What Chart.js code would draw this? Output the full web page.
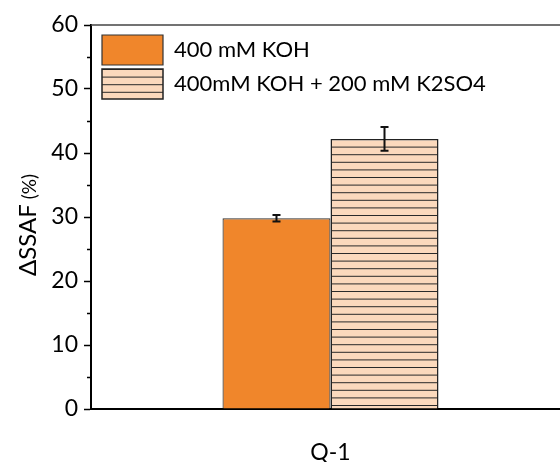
<!DOCTYPE html>
<html>
<head>
<meta charset="utf-8">
<script src="https://cdn.jsdelivr.net/npm/chart.js@4"></script>
<style>
  html, body { margin: 0; padding: 0; background: #fff; overflow: hidden; }
  #wrap { position: relative; width: 570px; height: 462px; }
</style>
</head>
<body>
<div id="wrap"><canvas id="c"></canvas></div>
<script>
// Data
const categories = ['Q-1'];
const seriesNames = ['400 mM KOH', '400mM KOH + 200 mM K2SO4'];
const kohValues = [29.8];
const kohErrors = [0.5];
const mixValues = [42.2];
const mixErrors = [1.85];
const minorTickValues = [5, 15, 25, 35, 45, 55];

// Horizontal-stripe fill used for the K2SO4 series
function makeHatch(spacing) {
  const tile = document.createElement('canvas');
  tile.width = 8;
  tile.height = Math.round(spacing * 5);
  const g = tile.getContext('2d');
  g.fillStyle = '#FBD9BD';
  g.fillRect(0, 0, tile.width, tile.height);
  g.fillStyle = '#2a2a2a';
  for (let k = 0; k < 5; k++) g.fillRect(0, k * spacing, tile.width, 1);
  return g.createPattern(tile, 'repeat');
}
const barHatch = makeHatch(7.6);
const legendHatch = makeHatch(7.6);

const FONT = 'Lato';

const decor = {
  id: 'decor',
  afterLayout(chart) {
    // place the legend inside the plot, just off the top-left corner
    const lg = chart.legend, a = chart.chartArea;
    const w = a.right - a.left, h = a.bottom - a.top;
    lg.left = a.left + 7; lg.right = lg.left + w;
    lg.top = a.top + 6; lg.bottom = lg.top + h;
  },
  beforeDraw(chart) {
    const bar = chart.getDatasetMeta(1).data[0];
    barHatch.setTransform(new DOMMatrix([1, 0, 0, 1, 0, Math.round(bar.y)]));
    const lg = chart.legend;
    const p = lg.options.labels.padding;
    const row2Top = lg.top + p + 30 + p;
    legendHatch.setTransform(new DOMMatrix([1, 0, 0, 1, 0, row2Top]));
  },
  afterDatasetsDraw(chart) {
    const ctx = chart.ctx, ys = chart.scales.y;
    chart.data.datasets.forEach((ds, i) => {
      chart.getDatasetMeta(i).data.forEach((bar, j) => {
        const v = ds.data[j], e = ds.errors[j];
        const yTop = ys.getPixelForValue(v + e), yBot = ys.getPixelForValue(v - e);
        ctx.save();
        ctx.strokeStyle = '#111';
        ctx.lineWidth = 2;
        ctx.beginPath();
        ctx.moveTo(bar.x, yTop); ctx.lineTo(bar.x, yBot);
        ctx.moveTo(bar.x - 4, yTop); ctx.lineTo(bar.x + 4, yTop);
        ctx.moveTo(bar.x - 4, yBot); ctx.lineTo(bar.x + 4, yBot);
        ctx.stroke();
        ctx.restore();
      });
    });
  },
  afterDraw(chart) {
    const ctx = chart.ctx, a = chart.chartArea, ys = chart.scales.y;
    ctx.save();
    // top frame line
    ctx.strokeStyle = '#444';
    ctx.lineWidth = 1.5;
    ctx.beginPath();
    ctx.moveTo(a.left, a.top);
    ctx.lineTo(a.right, a.top);
    ctx.stroke();
    // minor ticks
    ctx.strokeStyle = '#000';
    ctx.lineWidth = 1.5;
    ctx.beginPath();
    minorTickValues.forEach(v => {
      const y = Math.round(ys.getPixelForValue(v)) + 0.5;
      ctx.moveTo(a.left - 4, y);
      ctx.lineTo(a.left, y);
    });
    ctx.stroke();
    // y axis title with smaller unit
    const t1 = 'ΔSSAF', t2 = ' (%)';
    ctx.fillStyle = '#000';
    ctx.textBaseline = 'alphabetic';
    ctx.font = '24px ' + FONT;
    const w1 = ctx.measureText(t1).width;
    ctx.font = '19px ' + FONT;
    const w2 = ctx.measureText(t2).width;
    const cy = (a.top + a.bottom) / 2 + 8;
    ctx.translate(36, cy);
    ctx.rotate(-Math.PI / 2);
    ctx.font = '24px ' + FONT;
    ctx.fillText(t1, -(w1 + w2) / 2, 0);
    ctx.font = '19px ' + FONT;
    ctx.fillText(t2, -(w1 + w2) / 2 + w1, 0);
    ctx.restore();
  }
};

new Chart(document.getElementById('c'), {
  type: 'bar',
  data: {
    labels: categories,
    datasets: [
      {
        label: seriesNames[0],
        data: kohValues,
        errors: kohErrors,
        backgroundColor: '#F0862B',
        borderColor: '#333',
        borderWidth: 1.2
      },
      {
        label: seriesNames[1],
        data: mixValues,
        errors: mixErrors,
        backgroundColor: barHatch,
        borderColor: '#222',
        borderWidth: 1.5
      }
    ]
  },
  options: {
    responsive: true,
    maintainAspectRatio: false,
    animation: false,
    devicePixelRatio: 1,
    categoryPercentage: 0.451,
    barPercentage: 1,
    layout: { padding: { top: 25, left: 0, right: 0, bottom: 0 } },
    plugins: {
      tooltip: { enabled: false },
      legend: {
        position: 'chartArea',
        align: 'start',
        labels: {
          boxWidth: 61,
          boxHeight: 30,
          padding: 4,
          color: '#000',
          font: { family: FONT, size: 22 },
          generateLabels(chart) {
            const items = Chart.defaults.plugins.legend.labels.generateLabels(chart);
            items[1].fillStyle = legendHatch;
            return items;
          }
        }
      }
    },
    scales: {
      x: {
        type: 'category',
        grid: { display: false, drawTicks: false },
        border: { display: true, color: '#000', width: 2 },
        ticks: { color: '#000', font: { family: FONT, size: 23 }, padding: 30 },
        afterFit(scale) { scale.height = 53; }
      },
      y: {
        min: 0,
        max: 60,
        ticks: { stepSize: 10, color: '#000', font: { family: FONT, size: 23 }, padding: 6 },
        grid: { drawOnChartArea: false, drawTicks: true, tickLength: 7, tickWidth: 1.5, tickColor: '#000' },
        border: { display: true, color: '#000', width: 2 },
        afterFit(scale) { scale.width = 91; }
      }
    }
  },
  plugins: [decor]
});
</script>
</body>
</html>
